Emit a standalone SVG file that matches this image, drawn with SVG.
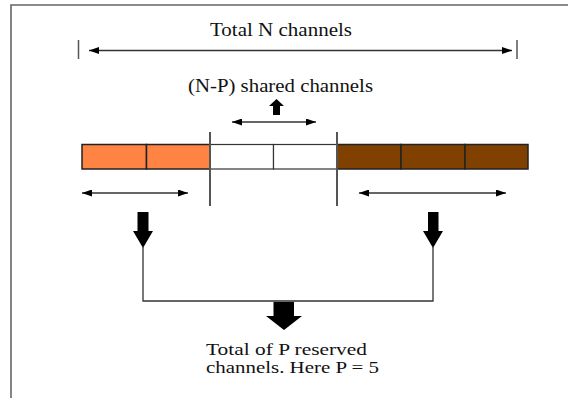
<svg xmlns="http://www.w3.org/2000/svg" width="568" height="398" viewBox="0 0 568 398">
  <style>
    .lbl { font-family: "Liberation Serif", "Times New Roman", serif; font-size: 18px; fill: #111; }
    .lbl-sm { font-family: "Liberation Serif", "Times New Roman", serif; font-size: 16.5px; fill: #111; }
    .dim { stroke: #333; stroke-width: 1.3; fill: none; }
    .cell { stroke: #222; stroke-width: 1.5; }
    .sep { stroke: #555; stroke-width: 2; }
    .wire { stroke: #333; stroke-width: 1.3; fill: none; }
    .block { fill: #000; }
  </style>
  <defs>
    <marker id="tip" viewBox="0 0 10 7" refX="10" refY="3.5" markerWidth="10" markerHeight="7" markerUnits="userSpaceOnUse" orient="auto-start-reverse">
      <path d="M0,0 L10,3.5 L0,7 Z" fill="#000"/>
    </marker>
  </defs>

  <rect width="568" height="398" fill="#fff"/>
  <!-- page frame (top and left edges) -->
  <path d="M11,398 V5 H568" fill="none" stroke="#666" stroke-width="1.6"/>

  <g id="total-span">
    <line x1="78.5" y1="40" x2="78.5" y2="59" stroke="#555" stroke-width="1.5"/>
    <line x1="517" y1="40" x2="517" y2="59" stroke="#555" stroke-width="1.5"/>
    <line class="dim" x1="89" y1="50.5" x2="512" y2="50.5" marker-start="url(#tip)" marker-end="url(#tip)"/>
    <text class="lbl" x="210" y="36" textLength="142" lengthAdjust="spacingAndGlyphs">Total N channels</text>
  </g>

  <g id="shared-label">
    <text class="lbl" x="188" y="92" textLength="185" lengthAdjust="spacingAndGlyphs">(N-P) shared channels</text>
    <path class="block" d="M273,115 V106 H269 L276.5,99 L284,106 H280 V115 Z"/>
    <line class="dim" x1="232" y1="122" x2="316" y2="122" marker-start="url(#tip)" marker-end="url(#tip)"/>
  </g>

  <g id="channel-strip">
    <rect class="cell" x="82" y="144.5" width="64.5" height="24.5" fill="#FF8444"/>
    <rect class="cell" x="146.5" y="144.5" width="63.5" height="24.5" fill="#FF8444"/>
    <rect x="210" y="144.5" width="63.5" height="24.5" fill="#fff" stroke="#333" stroke-width="1.2"/>
    <rect x="273.5" y="144.5" width="63.5" height="24.5" fill="#fff" stroke="#333" stroke-width="1.2"/>
    <rect class="cell" x="337" y="144.5" width="64" height="24.5" fill="#804000"/>
    <rect class="cell" x="401" y="144.5" width="64" height="24.5" fill="#804000"/>
    <rect class="cell" x="465" y="144.5" width="63" height="24.5" fill="#804000"/>
    <line class="sep" x1="210" y1="132" x2="210" y2="206"/>
    <line class="sep" x1="337" y1="132" x2="337" y2="206"/>
  </g>

  <g id="reserved-left">
    <line class="dim" x1="82" y1="193" x2="188" y2="193" marker-start="url(#tip)" marker-end="url(#tip)"/>
    <path class="block" d="M137.5,212 H148.5 V231 H153 L143,248 L133,231 H137.5 Z"/>
  </g>

  <g id="reserved-right">
    <line class="dim" x1="359" y1="193" x2="506" y2="193" marker-start="url(#tip)" marker-end="url(#tip)"/>
    <path class="block" d="M428,212 H438.5 V231 H443 L433,248 L423,231 H428 Z"/>
  </g>

  <g id="connectors">
    <path class="wire" d="M143,246 V301 H433 V246"/>
  </g>

  <g id="reserved-total">
    <path class="block" d="M273.5,302 H294 V316 H302 L284,330 L266,316 H273.5 Z"/>
    <text class="lbl-sm" x="206" y="355" textLength="161" lengthAdjust="spacingAndGlyphs">Total of P reserved</text>
    <text class="lbl-sm" x="206" y="373" textLength="173" lengthAdjust="spacingAndGlyphs">channels. Here P = 5</text>
  </g>
</svg>
